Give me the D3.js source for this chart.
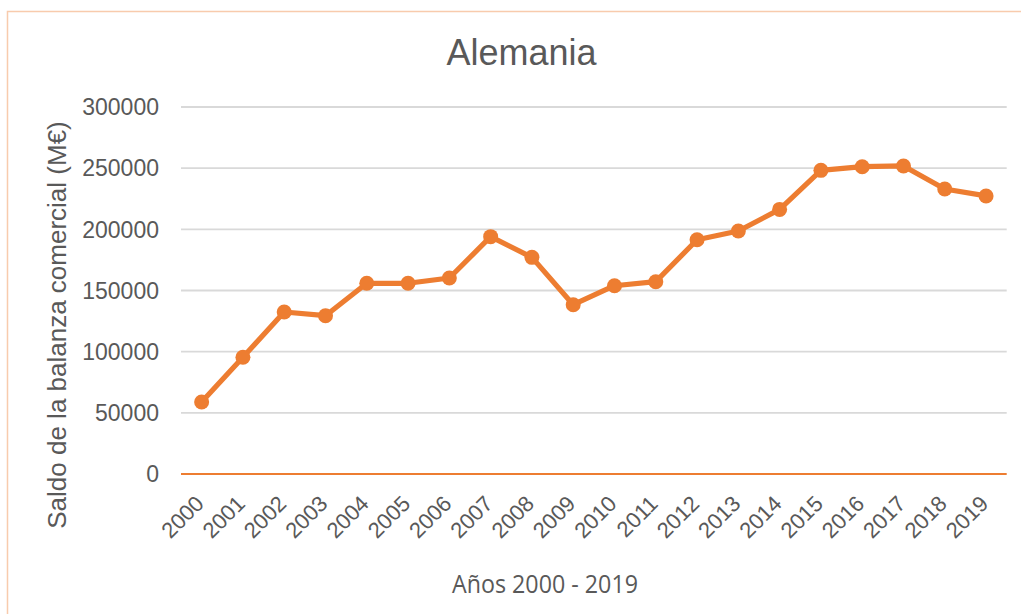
<!DOCTYPE html>
<html>
<head>
<meta charset="utf-8">
<script src="https://cdn.jsdelivr.net/npm/d3@7"></script>
<style>
  body { margin: 0; background: #fff; }
  svg { display: block; }
</style>
</head>
<body>
<script>
// data
var years = ["2000","2001","2002","2003","2004","2005","2006","2007","2008","2009",
             "2010","2011","2012","2013","2014","2015","2016","2017","2018","2019"];
var saldo = [58900, 95400, 132400, 129400, 155900, 155900, 160200, 194000, 177100, 138400,
             153900, 157200, 191500, 198600, 216300, 248200, 251200, 251800, 233000, 227300];
var yTicks = [0, 50000, 100000, 150000, 200000, 250000, 300000];

var W = 1021, H = 614;
var grey = "#595959", orange = "#ED7D31";

var svg = d3.select("body").append("svg")
  .attr("width", W)
  .attr("height", H);

// chart frame (light orange), runs off right and bottom
svg.append("rect")
  .attr("x", 7.5).attr("y", 11.5)
  .attr("width", W + 20).attr("height", H + 20)
  .attr("fill", "none")
  .attr("stroke", "#F8CBAD")
  .attr("stroke-width", 1.5);

var x = d3.scaleBand().domain(years).range([181, 1006.7]);
var y = d3.scaleLinear().domain([0, 300000]).range([474, 107]);

// gridlines
svg.append("g").selectAll("line")
  .data(yTicks.filter(function(d) { return d > 0; }))
  .enter().append("line")
  .attr("x1", 181).attr("x2", 1006.7)
  .attr("y1", function(d) { return y(d); })
  .attr("y2", function(d) { return y(d); })
  .attr("stroke", "#D9D9D9")
  .attr("stroke-width", 1.8);

// y tick labels
svg.append("g").selectAll("text")
  .data(yTicks)
  .enter().append("text")
  .attr("x", 159)
  .attr("y", function(d) { return y(d); })
  .attr("dy", "0.36em")
  .attr("text-anchor", "end")
  .attr("font-family", "Arial, 'Liberation Sans', sans-serif")
  .attr("font-size", "23px")
  .attr("fill", grey)
  .text(function(d) { return d; });

// zero line
svg.append("line")
  .attr("x1", 181).attr("x2", 1006.7)
  .attr("y1", y(0)).attr("y2", y(0))
  .attr("stroke", orange)
  .attr("stroke-width", 1.8);

// x tick labels, rotated
svg.append("g").selectAll("text")
  .data(years)
  .enter().append("text")
  .attr("transform", function(d) {
    var px = x(d) + x.bandwidth() / 2 + 3.5;
    return "translate(" + px + ",505) rotate(-45)";
  })
  .attr("text-anchor", "end")
  .attr("font-family", "Arial, 'Liberation Sans', sans-serif")
  .attr("font-size", "22px")
  .attr("fill", grey)
  .text(function(d) { return d; });

// line + markers
var line = d3.line()
  .x(function(d, i) { return x(years[i]) + x.bandwidth() / 2; })
  .y(function(d) { return y(d); });

svg.append("path")
  .datum(saldo)
  .attr("d", line)
  .attr("fill", "none")
  .attr("stroke", orange)
  .attr("stroke-width", 5.2)
  .attr("stroke-linejoin", "round");

svg.append("g").selectAll("circle")
  .data(saldo)
  .enter().append("circle")
  .attr("cx", function(d, i) { return x(years[i]) + x.bandwidth() / 2; })
  .attr("cy", function(d) { return y(d); })
  .attr("r", 7.5)
  .attr("fill", orange);

// title
svg.append("text")
  .attr("x", 521.5).attr("y", 65)
  .attr("text-anchor", "middle")
  .attr("font-family", "Arial, 'Liberation Sans', sans-serif")
  .attr("font-size", "36px")
  .attr("fill", grey)
  .text("Alemania");

// y axis title
svg.append("text")
  .attr("transform", "translate(66,325) rotate(-90)")
  .attr("text-anchor", "middle")
  .attr("font-family", "Arial, 'Liberation Sans', sans-serif")
  .attr("font-size", "26px")
  .attr("fill", grey)
  .text("Saldo de la balanza comercial (M€)");

// x axis title
svg.append("text")
  .attr("x", 545).attr("y", 593)
  .attr("text-anchor", "middle")
  .attr("font-family", "'Liberation Sans Narrow', 'Open Sans', sans-serif")
  .attr("font-size", "25px")
  .attr("textLength", 186)
  .attr("lengthAdjust", "spacingAndGlyphs")
  .attr("fill", grey)
  .text("Años 2000 - 2019");
</script>
</body>
</html>
